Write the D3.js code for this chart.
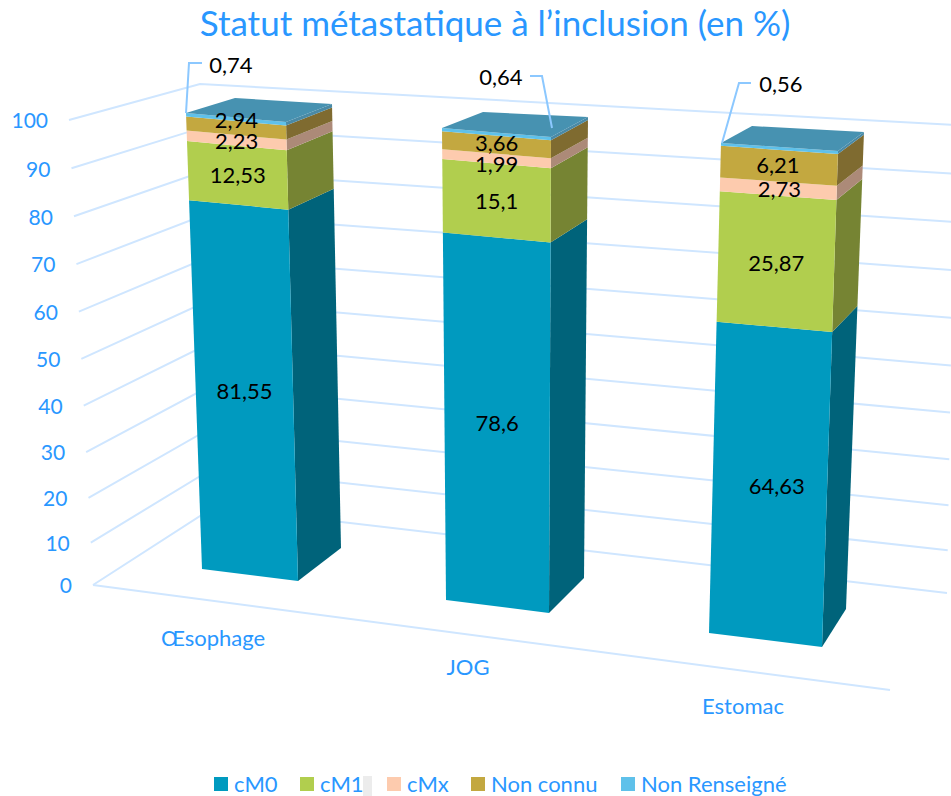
<!DOCTYPE html>
<html lang="fr">
<head>
<meta charset="utf-8">
<script src="https://cdn.jsdelivr.net/npm/d3@7"></script>
<style>
    body { margin: 0; background: #fff; }
    text { font-family: Lato, "Open Sans", sans-serif; }
    .blue { fill: #2997ff; }
    .grid { stroke: #cfe6ff; stroke-width: 2; fill: none; }
    .leader { stroke: #8cc8ff; stroke-width: 2; fill: none; }
</style>
</head>
<body>
<div id="chart"></div>
<script>
var categories = ["Œsophage", "JOG", "Estomac"];
var seriesNames = ["cM0", "cM1", "cMx", "Non connu", "Non Renseigné"];
var cM0 = [81.55, 78.6, 64.63];
var cM1 = [12.53, 15.1, 25.87];
var cMx = [2.23, 1.99, 2.73];
var nonConnu = [2.94, 3.66, 6.21];
var nonRenseigne = [0.74, 0.64, 0.56];
var yTicks = [0, 10, 20, 30, 40, 50, 60, 70, 80, 90, 100];

var frontColors = ["#009abf", "#b1ce4e", "#fdcbae", "#c3a840", "#5fc1ea"];
var sideColors = ["#00637a", "#768433", "#ac8a78", "#7f6b30", "#4a8aa6"];
var topColor = "#4792b1";

var width = 951;
var height = 796;

var svg = d3.select("#chart")
    .append("svg")
    .attr("width", width)
    .attr("height", height)
    .style("display", "block");

var table = categories.map(function(c, i) {
    return {
        category: c,
        "cM0": cM0[i],
        "cM1": cM1[i],
        "cMx": cMx[i],
        "Non connu": nonConnu[i],
        "Non Renseigné": nonRenseigne[i]
    };
});
var stacked = d3.stack().keys(seriesNames)(table);

// the view is in perspective, the upper values are a bit more spread out
var depthScale = d3.scalePow().exponent(1.04).domain([0, 100]).range([0, 1]);

// vertical edge of the 3D box: value -> [x, y]
function edge(bottom, top) {
    var sx = d3.scaleLinear().domain([0, 1]).range([bottom[0], top[0]]);
    var sy = d3.scaleLinear().domain([0, 1]).range([bottom[1], top[1]]);
    return function(v) { return [sx(depthScale(v)), sy(depthScale(v))]; };
}

// walls and floor
var wallFront = edge([93, 585], [69, 120]);
var wallBack = edge([214, 507], [200, 84]);
var wallRight = edge([947, 593], [955, 125]);

var line = d3.line();

var grid = svg.append("g");
yTicks.forEach(function(t) {
    grid.append("path")
        .attr("class", "grid")
        .attr("d", line([wallFront(t), wallBack(t), wallRight(t)]));
});
grid.append("path")
    .attr("class", "grid")
    .attr("d", line([[93, 585], [890, 690]]));

svg.selectAll(".ytick")
    .data(yTicks)
    .enter()
    .append("text")
        .attr("class", "ytick blue")
        .attr("x", function(d) { return wallFront(d)[0] - 21; })
        .attr("y", function(d) { return wallFront(d)[1] + 3; })
        .attr("text-anchor", "end")
        .attr("dominant-baseline", "middle")
        .attr("font-size", 21)
        .text(function(d) { return d; });

// bar boxes, front left / front right / back right edges + back left top
var frames = [
    { fl: edge([202, 569], [186, 113]), fr: edge([298, 581], [286, 122]), br: edge([341, 548], [332, 104]), backTop: [235, 98] },
    { fl: edge([446, 600], [442, 128]), fr: edge([549, 613], [551, 137]), br: edge([584, 578], [588, 117]), backTop: [483, 112] },
    { fl: edge([709, 633], [721, 143]), fr: edge([822, 647], [838, 151]), br: edge([846, 609], [864, 132]), backTop: [752, 126] }
];

var bars = svg.append("g");
frames.forEach(function(f, i) {
    stacked.forEach(function(s, k) {
        var v0 = s[i][0];
        var v1 = s[i][1];
        bars.append("path")
            .attr("fill", sideColors[k])
            .attr("d", line([f.fr(v0), f.br(v0), f.br(v1), f.fr(v1)]) + "Z");
        bars.append("path")
            .attr("fill", frontColors[k])
            .attr("d", line([f.fl(v0), f.fr(v0), f.fr(v1), f.fl(v1)]) + "Z");
    });
    var total = stacked[stacked.length - 1][i][1];
    bars.append("path")
        .attr("fill", topColor)
        .attr("d", line([f.fl(total), f.fr(total), f.br(total), f.backTop]) + "Z");
});

// small shifts of the value labels, per bar and series
var labelShift = [
    [[0, -2], [0, 2], [0, 3], [0, -6]],
    [[0, -2], [0, 3], [0, 8], [0, 1]],
    [[7, 1], [0, 4], [1, 3], [-1, 2]]
];
var labels = svg.append("g");
frames.forEach(function(f, i) {
    stacked.slice(0, 4).forEach(function(s, k) {
        var mid = (s[i][0] + s[i][1]) / 2;
        var a = f.fl(mid);
        var b = f.fr(mid);
        labels.append("text")
            .attr("x", (a[0] + b[0]) / 2 + labelShift[i][k][0])
            .attr("y", (a[1] + b[1]) / 2 + labelShift[i][k][1])
            .attr("text-anchor", "middle")
            .attr("dominant-baseline", "middle")
            .attr("font-size", 22)
            .attr("fill", "#000")
            .text(String(s[i].data[s.key]).replace(".", ","));
    });
});

// callouts for the thin top segment
var callouts = [
    { path: [[186, 113], [189, 63], [202, 63]], x: 231, y: 67 },
    { path: [[552, 128], [542, 76], [530, 76]], x: 501, y: 79 },
    { path: [[722, 143], [739, 83], [751, 83]], x: 781, y: 86 }
];
callouts.forEach(function(c, i) {
    svg.append("path").attr("class", "leader").attr("d", line(c.path));
    svg.append("text")
        .attr("x", c.x)
        .attr("y", c.y)
        .attr("text-anchor", "middle")
        .attr("dominant-baseline", "middle")
        .attr("font-size", 22)
        .attr("fill", "#000")
        .text(String(nonRenseigne[i]).replace(".", ","));
});

// category labels follow the floor line
var catPos = [[213, 640], [468, 669], [743, 708]];
svg.selectAll(".cat")
    .data(categories)
    .enter()
    .append("text")
        .attr("class", "cat blue")
        .attr("x", function(d, i) { return catPos[i][0]; })
        .attr("y", function(d, i) { return catPos[i][1]; })
        .attr("text-anchor", "middle")
        .attr("dominant-baseline", "middle")
        .attr("font-size", 22)
        .text(function(d) { return d; });

svg.append("text")
    .attr("class", "blue")
    .attr("x", 495)
    .attr("y", 27)
    .attr("text-anchor", "middle")
    .attr("dominant-baseline", "middle")
    .attr("font-size", 35)
    .text("Statut métastatique à l’inclusion (en %)");

// legend
var legendX = [214, 300, 387, 471, 621];
var legend = svg.selectAll(".legend")
    .data(seriesNames)
    .enter()
    .append("g")
        .attr("class", "legend")
        .attr("transform", function(d, i) { return `translate(${legendX[i]},777)`; });
legend.append("rect")
    .attr("width", 14)
    .attr("height", 14)
    .attr("fill", function(d, i) { return frontColors[i]; });
legend.append("text")
    .attr("class", "blue")
    .attr("x", 20)
    .attr("y", 9)
    .attr("dominant-baseline", "middle")
    .attr("font-size", 22)
    .text(function(d) { return d; });

// grey smudge beside cM1 in the source picture
svg.append("rect").attr("x", 363).attr("y", 776).attr("width", 9).attr("height", 20).attr("fill", "#ececec");
</script>
</body>
</html>
